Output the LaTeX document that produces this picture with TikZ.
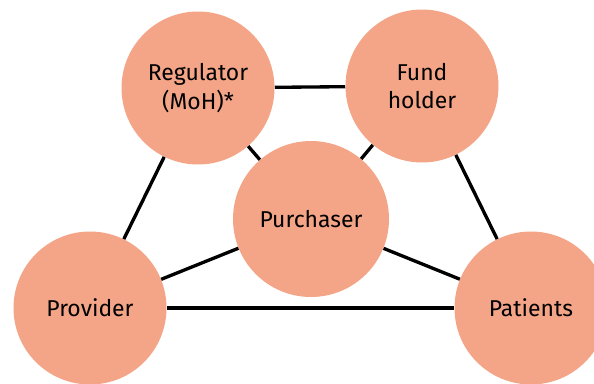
\documentclass[tikz,border=0pt]{standalone}
\usepackage{fontspec}
\setmainfont{Fira Sans}
\usepackage{tikz}

\definecolor{salmon}{RGB}{244,165,135}

\begin{document}
\begin{tikzpicture}[x=0.75pt,y=0.75pt,yscale=-1,xscale=1,
  bubble/.style={circle,fill=salmon,inner sep=0pt,minimum size=153*0.75pt,align=center,font=\fontsize{17.2}{21.5}\selectfont},
  link/.style={line width=2.5pt}]
\useasboundingbox (0,0) rectangle (594,383);

% Circle Node
\node [bubble] (reg) at (198,88) {Regulator\\(MoH)*};
% Circle Node
\node [bubble] (fund) at (422,86) {Fund\\holder};
% Circle Node
\node [bubble,minimum size=156*0.75pt] (pur) at (311,219) {Purchaser};
% Circle Node
\node [bubble] (prov) at (90,308) {Provider};
% Circle Node
\node [bubble] (pat) at (531,308) {Patients};

% Connection
\draw [link] (reg) -- (fund);
% Connection
\draw [link] (reg) -- (pur);
% Connection
\draw [link] (fund) -- (pur);
% Connection
\draw [link] (reg) -- (prov);
% Connection
\draw [link] (fund) -- (pat);
% Connection
\draw [link] (pur) -- (prov);
% Connection
\draw [link] (pur) -- (pat);
% Connection
\draw [link] (prov) -- (pat);

\end{tikzpicture}
\end{document}
